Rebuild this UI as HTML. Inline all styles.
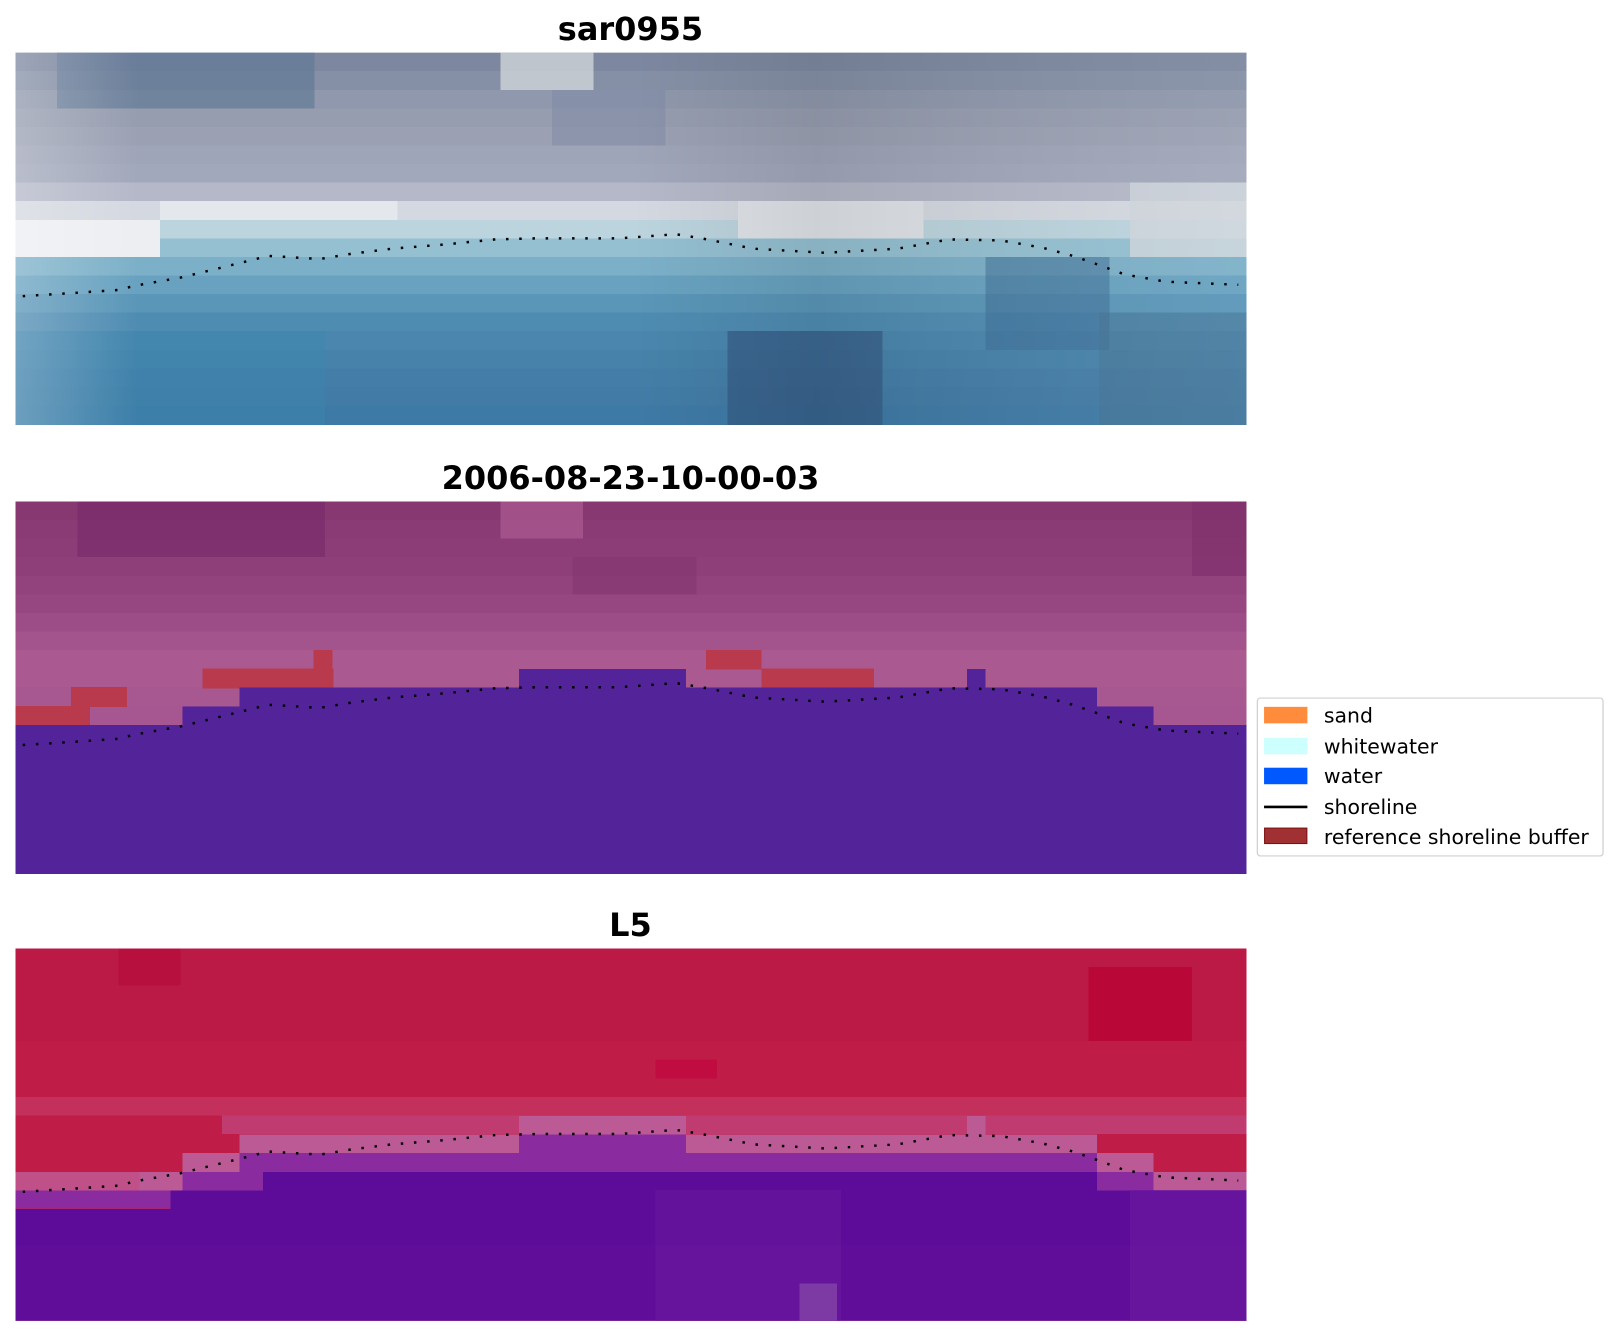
<!DOCTYPE html>
<html><head><meta charset="utf-8"><style>
html,body{margin:0;padding:0;background:#fff;}
svg{display:block;}
</style></head><body>
<svg width="1618" height="1337" viewBox="0 0 1568 1295.7" xmlns="http://www.w3.org/2000/svg" font-family="'DejaVu Sans','Liberation Sans',sans-serif" shape-rendering="crispEdges">
<defs>
<linearGradient id="h1" x1="0" x2="1" y1="0" y2="0">
<stop offset="0" stop-color="#fff" stop-opacity="0.25"/><stop offset="0.1" stop-color="#fff" stop-opacity="0.0"/><stop offset="0.5" stop-color="#000" stop-opacity="0.0"/><stop offset="0.65" stop-color="#000" stop-opacity="0.08"/><stop offset="1" stop-color="#fff" stop-opacity="0.05"/>
</linearGradient>
<clipPath id="pc"><rect x="0" y="0" width="1193" height="361"/></clipPath>
</defs>
<!-- titles -->
<text x="611" y="39" font-size="31" font-weight="bold" text-anchor="middle">sar0955</text>
<text x="611" y="474" font-size="31" font-weight="bold" text-anchor="middle">2006-08-23-10-00-03</text>
<text x="611" y="907" font-size="31" font-weight="bold" text-anchor="middle">L5</text>

<!-- Panel 1 -->
<g transform="translate(15,51)" clip-path="url(#pc)">
<rect x="0" y="0" width="1193" height="19" fill="#7d88a0"/>
<rect x="0" y="18" width="1193" height="19" fill="#8590a6"/>
<rect x="0" y="36" width="1193" height="19" fill="#8f98ac"/>
<rect x="0" y="54" width="1193" height="19" fill="#969daf"/>
<rect x="0" y="72" width="1193" height="19" fill="#9ba1b3"/>
<rect x="0" y="90" width="1193" height="19" fill="#9fa5b8"/>
<rect x="0" y="108" width="1193" height="19" fill="#a2a8bb"/>
<rect x="0" y="126" width="1193" height="19" fill="#b4b8c8"/>
<rect x="0" y="144" width="1193" height="19" fill="#d4d8e0"/>
<rect x="0" y="162" width="1193" height="19" fill="#bcd4de"/>
<rect x="0" y="180" width="1193" height="19" fill="#94c0d2"/>
<rect x="0" y="198" width="1193" height="19" fill="#7cb0c8"/>
<rect x="0" y="216" width="1193" height="19" fill="#68a2c0"/>
<rect x="0" y="234" width="1193" height="19" fill="#5a96b8"/>
<rect x="0" y="252" width="1193" height="19" fill="#4f8cb2"/>
<rect x="0" y="270" width="1193" height="19" fill="#4a86ae"/>
<rect x="0" y="288" width="1193" height="19" fill="#4682aa"/>
<rect x="0" y="306" width="1193" height="19" fill="#447ea8"/>
<rect x="0" y="324" width="1193" height="19" fill="#427ca6"/>
<rect x="0" y="342" width="1193" height="19" fill="#3e7aa6"/>
<rect x="40" y="0" width="250" height="54" fill="#5e7694" opacity="0.6"/>
<rect x="470" y="0" width="90" height="36" fill="#d0d4d8" opacity="0.8"/>
<rect x="520" y="36" width="110" height="54" fill="#7e8aa6" opacity="0.5"/>
<rect x="0" y="162" width="140" height="36" fill="#eceef2"/>
<rect x="140" y="144" width="230" height="18" fill="#e4e8ec"/>
<rect x="700" y="144" width="180" height="36" fill="#dfe3e8"/>
<rect x="1080" y="126" width="113" height="72" fill="#d0d6dc" opacity="0.8"/>
<rect x="940" y="198" width="120" height="90" fill="#3a6a94" opacity="0.5"/>
<rect x="690" y="270" width="150" height="91" fill="#34557e" opacity="0.6"/>
<rect x="0" y="270" width="300" height="91" fill="#3a86b0" opacity="0.4"/>
<rect x="1050" y="252" width="143" height="109" fill="#45708e" opacity="0.4"/>
<rect x="0" y="0" width="1193" height="361" fill="url(#h1)"/>
</g>

<!-- Panel 2 -->
<g transform="translate(15,486)" clip-path="url(#pc)">
<rect x="0" y="0" width="1193" height="19" fill="#873870"/>
<rect x="0" y="18" width="1193" height="19" fill="#8a3a74"/>
<rect x="0" y="36" width="1193" height="19" fill="#8c3c76"/>
<rect x="0" y="54" width="1193" height="19" fill="#8e3e78"/>
<rect x="0" y="72" width="1193" height="19" fill="#92427c"/>
<rect x="0" y="90" width="1193" height="19" fill="#964680"/>
<rect x="0" y="108" width="1193" height="19" fill="#9c4c86"/>
<rect x="0" y="126" width="1193" height="19" fill="#a4548c"/>
<rect x="0" y="144" width="1193" height="19" fill="#aa5a90"/>
<rect x="0" y="162" width="1193" height="19" fill="#aa5a90"/>
<rect x="0" y="180" width="1193" height="19" fill="#a85890"/>
<rect x="0" y="198" width="1193" height="19" fill="#a65690"/>
<rect x="60" y="0" width="240" height="54" fill="#74286a" opacity="0.6"/>
<rect x="470" y="0" width="80" height="36" fill="#a8588e" opacity="0.8"/>
<rect x="540" y="54" width="120" height="36" fill="#803470" opacity="0.5"/>
<rect x="1140" y="0" width="53" height="72" fill="#7e306c" opacity="0.6"/>
<g fill="#b83a4c">
<rect x="0" y="198" width="72" height="19"/>
<rect x="54" y="180" width="54" height="19"/>
<rect x="181" y="162" width="127" height="19"/>
<rect x="289" y="144" width="18" height="19"/>
<rect x="669" y="144" width="54" height="19"/>
<rect x="723" y="162" width="109" height="19"/>
</g>
<path fill="#53239a" d="M0,216.6 H162 V198.5 H217 V180.5 H488 V162.4 H650 V180.5 H922 V162.4 H940 V180.5 H1048 V198.5 H1103 V216.6 H1193 V361 H0 Z"/>
</g>

<!-- Panel 3 -->
<g transform="translate(15,919)" clip-path="url(#pc)">
<rect x="0" y="0" width="1193" height="361" fill="#c01c48"/>
<rect x="0" y="0" width="1193" height="90" fill="#bc1a46"/>
<rect x="100" y="0" width="60" height="36" fill="#b8103e"/>
<rect x="1040" y="18" width="100" height="72" fill="#b80030" opacity="0.7"/>
<rect x="620" y="108" width="60" height="18" fill="#c00c40"/>
<rect x="0" y="144" width="1193" height="18" fill="#c4305c"/>
<rect x="200" y="162" width="993" height="18" fill="#c03c70" />
<path fill="#bc5a96" d="M0,216.6 H162 V198.5 H217 V180.5 H488 V162.4 H650 V180.5 H922 V162.4 H940 V180.5 H1048 V198.5 H1103 V216.6 H1193 V234.6 H0 Z"/>
<path fill="#c05088" d="M0,216.6 H120 V234.6 H0 Z"/>
<path fill="#8a2ca0" d="M0,234.6 H162 V216.6 H217 V198.5 H488 V180.5 H650 V198.5 H1048 V216.6 H1103 V234.6 H1193 V252 H0 Z"/>
<path fill="#5c0c98" d="M0,252.6 H150 V234.6 H240 V216.6 H1048 V234.6 H1193 V361 H0 Z"/>
<rect x="0" y="288" width="1193" height="73" fill="#62109a" opacity="0.6"/>
<rect x="620" y="234" width="180" height="127" fill="#6a1a9e" opacity="0.5"/>
<rect x="760" y="325" width="36" height="36" fill="#7e3aa4"/>
<rect x="1080" y="234" width="113" height="127" fill="#6c1aa0" opacity="0.6"/>
</g>

<!-- shorelines -->
<g fill="none" stroke="#000" stroke-width="2.4" stroke-dasharray="2.4 10.4" shape-rendering="auto">
<polyline id="sl" points="22,287 70,284 115,281 130,277 175,269 220,258 260,248 310,251 340,246 380,241 430,237 480,232 520,231 600,231 655,227 680,231 700,235 730,241 800,245 870,241 920,232 970,233 1010,240 1040,248 1060,255 1090,266 1130,273 1200,276"/>
<use href="#sl" transform="translate(0,435)"/>
<use href="#sl" transform="translate(0,868)"/>
</g>

<!-- legend -->
<g shape-rendering="auto">
<rect x="1218.5" y="676.5" width="335" height="153" rx="3" fill="#fff" stroke="#d0d0d0" stroke-width="1.2"/>
<rect x="1225" y="685" width="42" height="16" fill="#ff8c3c"/>
<rect x="1225" y="715" width="42" height="16" fill="#ccfffe"/>
<rect x="1225" y="744" width="42" height="16" fill="#0058ff"/>
<line x1="1225" y1="782" x2="1267" y2="782" stroke="#000" stroke-width="2.5"/>
<rect x="1225.5" y="802.5" width="41" height="15" fill="#a03032" stroke="#7a1010" stroke-width="1"/>
<g font-size="19.8" fill="#000">
<text x="1283" y="700">sand</text>
<text x="1283" y="730">whitewater</text>
<text x="1283" y="759">water</text>
<text x="1283" y="789">shoreline</text>
<text x="1283" y="818">reference shoreline buffer</text>
</g>
</g>
</svg>
</body></html>
